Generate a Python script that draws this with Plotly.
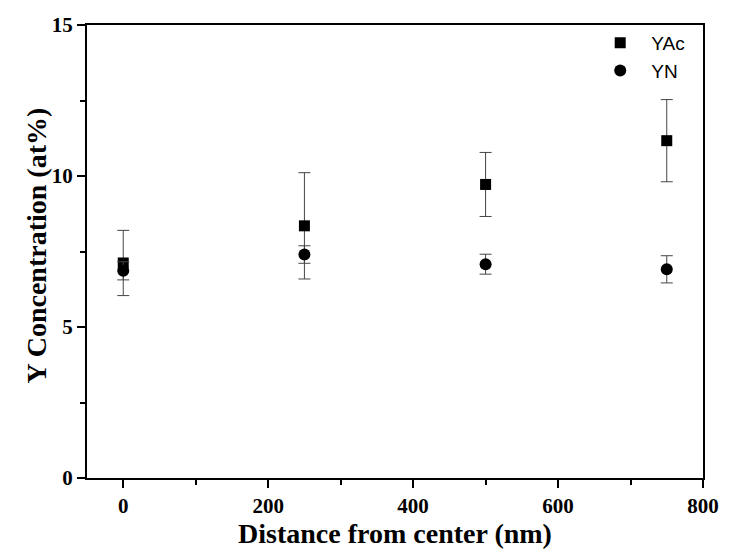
import plotly.graph_objects as go

distance = [0, 250, 500, 750]
yac = [7.12, 8.35, 9.72, 11.17]
yac_err = [1.08, 1.76, 1.06, 1.36]
yn = [6.86, 7.40, 7.08, 6.91]
yn_err = [0.30, 0.29, 0.33, 0.45]
x_ticks = [0, 200, 400, 600, 800]
y_ticks = [0, 5, 10, 15]

fig = go.Figure()
err_style = dict(type="data", thickness=1, width=6, color="#444444")
fig.add_trace(go.Scatter(
    x=distance, y=yac, mode="markers", name="YAc",
    marker=dict(symbol="square", size=11, color="black"),
    error_y=dict(array=yac_err, **err_style),
))
fig.add_trace(go.Scatter(
    x=distance, y=yn, mode="markers", name="YN",
    marker=dict(symbol="circle", size=12, color="black"),
    error_y=dict(array=yn_err, **err_style),
))

tick_font = dict(family="Liberation Serif", size=21, color="black")
title_font = dict(family="Liberation Serif", size=28, color="black")

fig.update_layout(
    width=722, height=552,
    margin=dict(l=79, r=27, t=17, b=82, autoexpand=False),
    plot_bgcolor="white", paper_bgcolor="white",
    showlegend=True,
    legend=dict(xref="container", yref="container", x=0.805, y=0.971, xanchor="left", yanchor="top",
                font=dict(family="Liberation Sans", size=19, color="black"),
                bgcolor="rgba(0,0,0,0)", tracegroupgap=0, itemwidth=52),
    xaxis=dict(
        range=[-50, 800], tickvals=x_ticks, ticktext=[f"<b>{v}</b>" for v in x_ticks],
        ticks="outside", ticklen=8, tickwidth=1.5, tickcolor="black",
        minor=dict(tickvals=[100, 300, 500, 700], ticks="outside", ticklen=5, tickcolor="black", tickwidth=1.5),
        showline=True, linecolor="black", linewidth=2, mirror=True,
        showgrid=False, zeroline=False, automargin=False,
        tickfont=tick_font,
        title=dict(text="<b>Distance from center (nm)</b>", font=title_font, standoff=3),
    ),
    yaxis=dict(
        range=[0, 15], tickvals=y_ticks, ticktext=[f"<b>{v}</b>" for v in y_ticks],
        ticks="outside", ticklen=8, tickwidth=1.5, tickcolor="black",
        minor=dict(tickvals=[2.5, 7.5, 12.5], ticks="outside", ticklen=5, tickcolor="black", tickwidth=1.5),
        showline=True, linecolor="black", linewidth=2, mirror=True,
        showgrid=False, zeroline=False, automargin=False,
        tickfont=tick_font,
    ),
    annotations=[dict(
        text="<b>Y Concentration (at%)</b>", textangle=-90, font=title_font,
        xref="paper", yref="paper", x=0, y=0.5, xanchor="center", yanchor="middle",
        xshift=-51, yshift=6, showarrow=False,
    )],
)

fig.write_html("out.html")
